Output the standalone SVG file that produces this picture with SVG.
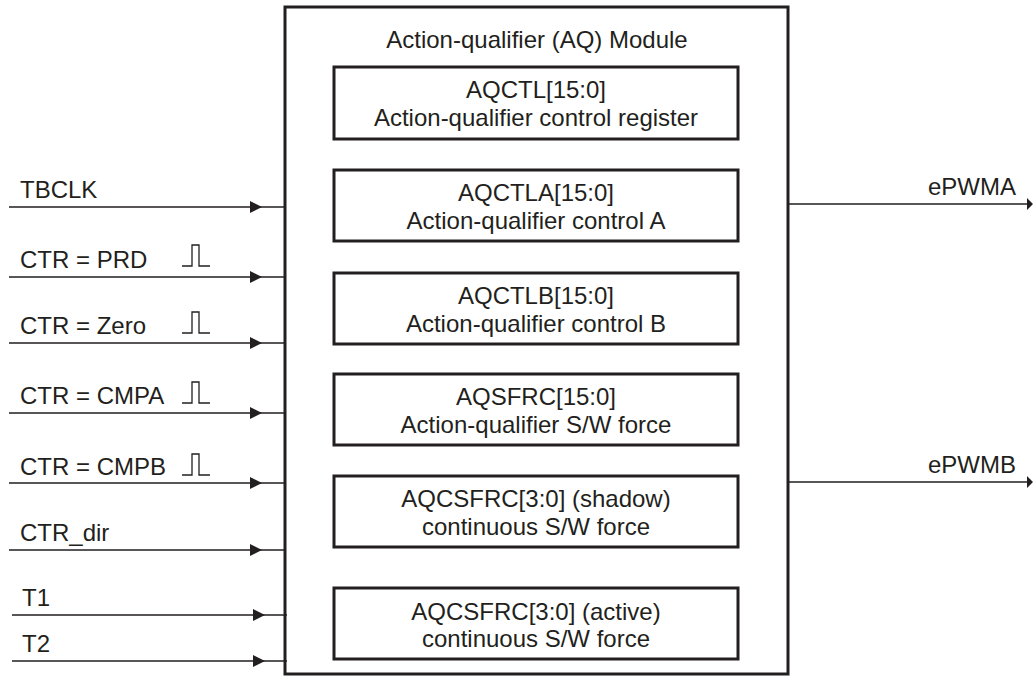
<svg xmlns="http://www.w3.org/2000/svg" width="1033" height="677" viewBox="0 0 1033 677">
<defs>
<style>
text{font-family:"Liberation Sans",Arial,sans-serif;font-size:24px;fill:#231f20}
.c{text-anchor:middle}
.r{text-anchor:end}
.box{fill:#fff;stroke:#231f20;stroke-width:3}
.ln{stroke:#231f20;stroke-width:1.3;fill:none}
.pulse{stroke:#231f20;stroke-width:1.3;fill:none}
.ah{fill:#231f20}
</style>
</defs>
<rect width="1033" height="677" fill="#fff"/>
<g id="module">
<rect class="box" x="285" y="7" width="503" height="667"/>
<text class="c" x="537" y="48">Action-qualifier (AQ) Module</text>
</g>
<g id="aqctl"><rect class="box" x="334" y="67" width="404" height="72"/><text class="c" x="536" y="98">AQCTL[15:0]</text><text class="c" x="536" y="126">Action-qualifier control register</text></g>
<g id="aqctla"><rect class="box" x="334" y="170" width="404" height="71"/><text class="c" x="536" y="201">AQCTLA[15:0]</text><text class="c" x="536" y="229">Action-qualifier control A</text></g>
<g id="aqctlb"><rect class="box" x="334" y="273" width="404" height="71"/><text class="c" x="536" y="304">AQCTLB[15:0]</text><text class="c" x="536" y="332">Action-qualifier control B</text></g>
<g id="aqsfrc"><rect class="box" x="334" y="374" width="404" height="71"/><text class="c" x="536" y="405">AQSFRC[15:0]</text><text class="c" x="536" y="433">Action-qualifier S/W force</text></g>
<g id="aqcsfrc-shadow"><rect class="box" x="334" y="476" width="404" height="71"/><text class="c" x="536" y="507">AQCSFRC[3:0] (shadow)</text><text class="c" x="536" y="535">continuous S/W force</text></g>
<g id="aqcsfrc-active"><rect class="box" x="334" y="588" width="404" height="71"/><text class="c" x="536" y="620">AQCSFRC[3:0] (active)</text><text class="c" x="536" y="647">continuous S/W force</text></g>
<g id="connectors">
<path class="ln" d="M9 207H285M9 277H285M9 343H285M9 413H285M9 483H285M9 550H285M12 615H287M12 661H287M789 204H1030M789 482H1030"/>
<path class="ah" d="M250 201L262 207L250 213ZM250 271L262 277L250 283ZM250 337L262 343L250 349ZM250 407L262 413L250 419ZM250 477L262 483L250 489ZM250 544L262 550L250 556ZM253 609L265 615L253 621ZM253 655L265 661L253 667ZM1027 198L1033 204L1027 210ZM1027 476L1033 482L1027 488Z"/>
</g>
<g id="labels">
<text x="20" y="198">TBCLK</text>
<text x="20" y="268">CTR = PRD</text>
<text x="20" y="334">CTR = Zero</text>
<text x="20" y="404">CTR = CMPA</text>
<text x="20" y="475">CTR = CMPB</text>
<text x="20" y="541">CTR_dir</text>
<text x="22" y="606">T1</text>
<text x="22" y="652">T2</text>
<text class="r" x="1016" y="195">ePWMA</text>
<text class="r" x="1016" y="473">ePWMB</text>
<path class="pulse" d="M182 266H192V245H199V266H210M182 333H192V312H199V333H210M182 403H192V382H199V403H210M182 475H192V454H199V475H210"/>
</g>
</svg>
